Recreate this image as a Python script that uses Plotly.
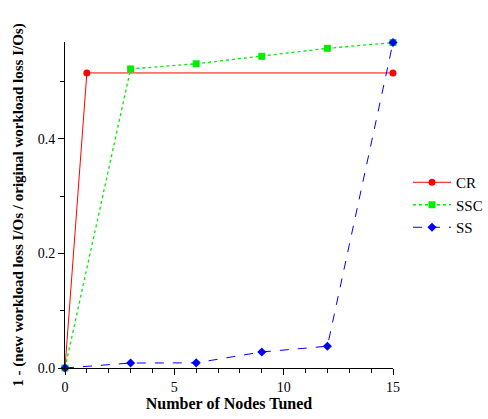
import plotly.graph_objects as go

x_cr = [0, 1, 15]
y_cr = [0.0, 0.515, 0.515]
x_ssc = [0, 3, 6, 9, 12, 15]
y_ssc = [0.0, 0.522, 0.531, 0.544, 0.558, 0.568]
x_ss = [0, 3, 6, 9, 12, 15]
y_ss = [0.0, 0.0087, 0.009, 0.028, 0.038, 0.568]

font_family = "'Liberation Serif', 'DejaVu Serif', serif"

fig = go.Figure()
fig.add_trace(go.Scatter(x=x_cr, y=y_cr, name="CR", mode="lines+markers",
                         line=dict(color="#ff0000", width=1),
                         marker=dict(symbol="circle", size=7, color="#ff0000"),
                         cliponaxis=False))
fig.add_trace(go.Scatter(x=x_ssc, y=y_ssc, name="SSC", mode="lines+markers",
                         line=dict(color="#00ee00", width=1.3, dash="dot"),
                         marker=dict(symbol="square", size=7, color="#00ee00"),
                         cliponaxis=False))
fig.add_trace(go.Scatter(x=x_ss, y=y_ss, name="SS", mode="lines+markers",
                         line=dict(color="#0000ff", width=1, dash="dash"),
                         marker=dict(symbol="diamond", size=7, color="#0000ff"),
                         cliponaxis=False))

fig.update_layout(
    width=488, height=419,
    margin=dict(l=65, r=95, t=42, b=51, autoexpand=False),
    paper_bgcolor="white", plot_bgcolor="white",
    font=dict(family=font_family, size=14, color="black"),
    showlegend=True,
    legend=dict(x=408/488, y=(419-205)/419, xref="container", yref="container",
                xanchor="left", yanchor="middle",
                font=dict(size=15), tracegroupgap=0, itemwidth=38,
                bgcolor="rgba(0,0,0,0)"),
    xaxis=dict(range=[0, 15], showgrid=False, zeroline=False, automargin=False,
               showline=True, linecolor="black", linewidth=1,
               ticks="outside", ticklen=6, tickcolor="black",
               tickvals=[0, 5, 10, 15], ticktext=["0", "5", "10", "15"],
               minor=dict(ticks="outside", ticklen=4, dtick=1, tick0=0, tickcolor="black"),
               title=dict(text="<b>Number of Nodes Tuned</b>", font=dict(size=16), standoff=4)),
    yaxis=dict(range=[0, 0.569], showgrid=False, zeroline=False, automargin=False,
               showline=True, linecolor="black", linewidth=1,
               ticks="outside", ticklen=6, tickcolor="black",
               tickvals=[0, 0.2, 0.4], ticktext=["0.0", "0.2", "0.4"],
               minor=dict(ticks="outside", ticklen=4, tickvals=[0.1, 0.3, 0.5], tickcolor="black"),
               title=dict(text="<b>1 - (new workload loss I/Os / original workload loss I/Os)</b>",
                          font=dict(size=15), standoff=10)),
)

fig.write_html("out.html")
